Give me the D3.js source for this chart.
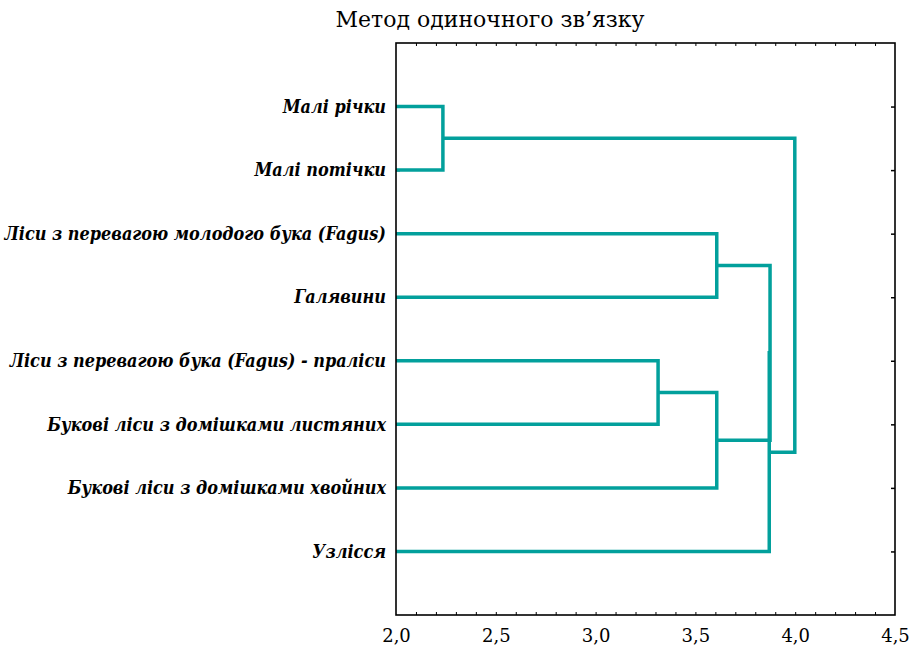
<!DOCTYPE html>
<meta charset="utf-8">
<script src="https://d3js.org/d3.v7.min.js"></script>
<style>
body { margin: 0; background: #fff; }
</style>
<div id="chart"></div>
<script>
// leaves, top to bottom
var leaves = [
  "Малі річки",
  "Малі потічки",
  "Ліси з перевагою молодого бука (Fagus)",
  "Галявини",
  "Ліси з перевагою бука (Fagus) - праліси",
  "Букові ліси з домішками листяних",
  "Букові ліси з домішками хвойних",
  "Узлісся"
];
// merge steps: ids 0..7 are leaves, 8.. are the clusters made here
var mergeLeft   = [0, 4, 2, 9, 10, 12, 8];
var mergeRight  = [1, 5, 3, 6, 11, 7, 13];
var mergeHeight = [2.235, 3.313, 3.607, 3.607, 3.874, 3.870, 3.998];
var xTicks = [2.0, 2.5, 3.0, 3.5, 4.0, 4.5];
var titleText = "Метод одиночного зв’язку";

var serif = "DejaVu Serif";

var W = 909, H = 651;
var margin = { top: 43, right: 14, bottom: 36, left: 396 };
var pw = W - margin.left - margin.right,
    ph = H - margin.top - margin.bottom;

var svg = d3.select("#chart").append("svg")
  .attr("width", W).attr("height", H)
  .attr("font-family", serif);

svg.append("text")
  .attr("x", 490).attr("y", 27)
  .attr("text-anchor", "middle")
  .attr("font-family", serif)
  .attr("font-size", "22px")
  .text(titleText);

var g = svg.append("g")
  .attr("transform", "translate(" + margin.left + "," + margin.top + ")");

var x = d3.scaleLinear().domain([2.0, 4.5]).range([0, pw]);
var y = d3.scalePoint().domain(d3.range(leaves.length)).range([0, ph]).padding(1);

// minor ticks top and bottom, pointing inward
var minor = d3.range(21, 45).map(function(d) { return d / 10; });
g.append("g")
  .call(d3.axisBottom(x).tickValues(minor).tickSize(3).tickFormat(""))
  .call(function(s) { s.select(".domain").remove(); });
g.append("g")
  .attr("transform", "translate(0," + ph + ")")
  .call(d3.axisTop(x).tickValues(minor).tickSize(3).tickFormat(""))
  .call(function(s) { s.select(".domain").remove(); });

// bottom labels
var xa = g.append("g")
  .attr("transform", "translate(0," + ph + ")")
  .call(d3.axisBottom(x).tickValues(xTicks).tickSize(0).tickPadding(14)
    .tickFormat(function(d) { return d3.format(".1f")(d).replace(".", ","); }));
xa.select(".domain").remove();
xa.attr("font-family", serif);
xa.selectAll("text")
  .attr("font-family", serif)
  .attr("font-size", "18px")
  .attr("fill", "#000");

// leaf ticks on both sides
g.append("g")
  .attr("transform", "translate(" + pw + ",0)")
  .call(d3.axisLeft(y).tickSize(4).tickFormat(""))
  .call(function(s) { s.select(".domain").remove(); s.selectAll("line").attr("stroke-width", 1.5); });
g.append("g")
  .call(d3.axisRight(y).tickSize(4).tickFormat(""))
  .call(function(s) { s.select(".domain").remove(); s.selectAll("line").attr("stroke-width", 1.5); });

// leaf labels
g.append("g").selectAll("text")
  .data(leaves)
  .join("text")
  .attr("x", -10)
  .attr("y", function(d, i) { return y(i); })
  .attr("dy", "0.35em")
  .attr("text-anchor", "end")
  .attr("font-family", serif)
  .attr("font-stretch", "condensed")
  .attr("font-size", "17.9px")
  .attr("font-weight", "bold")
  .attr("font-style", "italic")
  .text(function(d) { return d; });

// tree
var nodeX = leaves.map(function() { return x(2.0); });
var nodeY = leaves.map(function(d, i) { return y(i); });
var links = [];
mergeHeight.forEach(function(h, k) {
  var a = mergeLeft[k], b = mergeRight[k];
  var mx = x(h);
  links.push({ x1: nodeX[a], y1: nodeY[a], x2: nodeX[b], y2: nodeY[b], mx: mx });
  nodeX.push(mx);
  nodeY.push((nodeY[a] + nodeY[b]) / 2);
});

g.append("g").selectAll("path")
  .data(links)
  .join("path")
  .attr("d", function(d) {
    return "M" + d.x1 + "," + d.y1 + "H" + d.mx + "V" + d.y2 + "H" + d.x2;
  })
  .attr("fill", "none")
  .attr("stroke", "#02a09c")
  .attr("stroke-width", 3.5)
  .attr("stroke-linejoin", "miter");

// frame
g.append("rect")
  .attr("width", pw).attr("height", ph)
  .attr("fill", "none")
  .attr("stroke", "#000")
  .attr("stroke-width", 1.6);
</script>
